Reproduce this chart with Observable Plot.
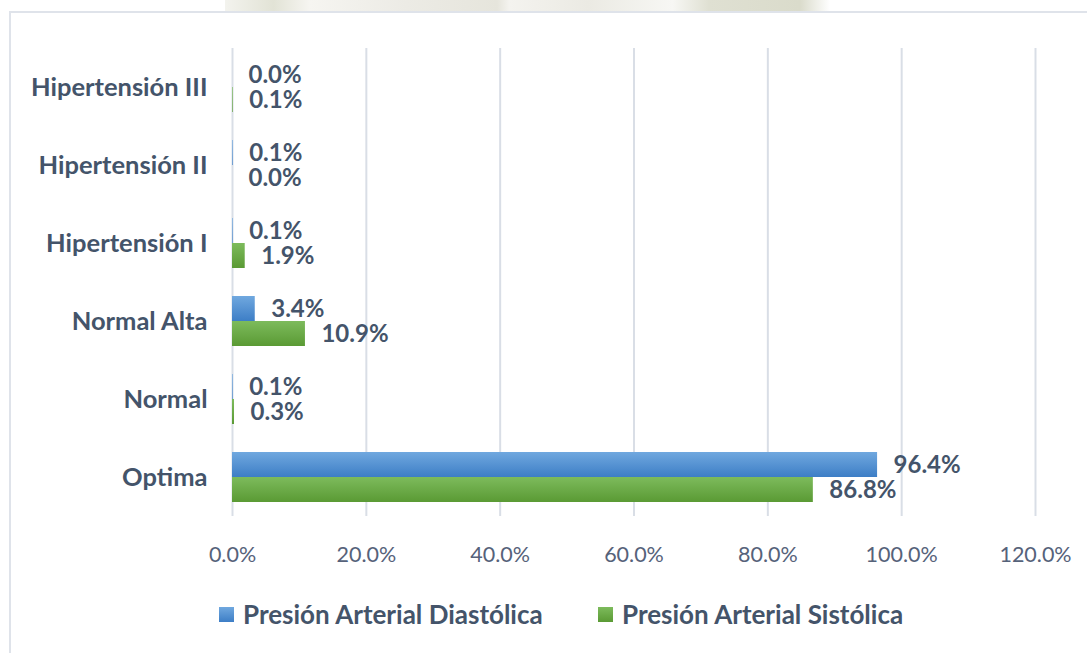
<!DOCTYPE html>
<html>
<head>
<meta charset="utf-8">
<script src="https://cdn.jsdelivr.net/npm/d3@7"></script>
<script src="https://cdn.jsdelivr.net/npm/@observablehq/plot@0.6"></script>
<style>
  html, body { margin: 0; padding: 0; background: #ffffff; }
  body { width: 1087px; height: 653px; position: relative; overflow: hidden; font-family: Lato, "Open Sans", sans-serif; }
  #wm { position: absolute; left: 225px; top: 0; width: 605px; height: 11px;
        background: linear-gradient(90deg, #f3f3ee 0%, #e2e3d6 8%, #f6f5f1 14%, #ecebe5 30%, #e6e5dc 45%, #f4f3ef 47%, #ebeae3 60%, #f7f7f4 74%, #dfe0d2 80%, #dadbcb 95%, #ffffff 100%); }
  #frame { position: absolute; left: 9px; top: 11px; width: 1100px; height: 700px; border-top: 2px solid #dfe3ea; border-left: 2px solid #dfe3ea; }
  #chart { position: absolute; left: 0; top: 0; }
  #legend { position: absolute; left: 0; top: 599px; width: 1087px; height: 30px; }
  .item { position: absolute; top: 0; display: flex; align-items: center; height: 30px; font-weight: bold; font-size: 26px; color: #44546a; }
  .sw { width: 15px; height: 15px; margin-right: 9px; }
</style>
</head>
<body>
<div id="wm"></div>
<div id="frame"></div>
<div id="chart"></div>
<div id="legend"></div>
<script>
const categories = ["Optima", "Normal", "Normal Alta", "Hipertensión I", "Hipertensión II", "Hipertensión III"];
const series = ["Presión Arterial Diastólica", "Presión Arterial Sistólica"];
const diastolica = [96.4, 0.1, 3.4, 0.1, 0.1, 0.0];
const sistolica = [86.8, 0.3, 10.9, 1.9, 0.0, 0.1];
const xTicks = [0, 20, 40, 60, 80, 100, 120];
const seriesFill = ["url(#gBlue)", "url(#gGreen)"];

const data = [];
categories.forEach((c, i) => {
  data.push({cat: c, series: series[0], value: diastolica[i]});
  data.push({cat: c, series: series[1], value: sistolica[i]});
});

const fmt = d => d.toFixed(1) + "%";
const textColor = "#44546a";

const chart = Plot.plot({
  width: 1087,
  height: 575,
  marginLeft: 232,
  marginRight: 52,
  marginTop: 48,
  marginBottom: 59,
  style: {fontFamily: "Lato, 'Open Sans', sans-serif", background: "transparent"},
  x: {domain: [0, 120]},
  fy: {domain: categories.slice().reverse(), padding: 0},
  y: {domain: series, paddingInner: 0, paddingOuter: 0.53, axis: null},
  color: {domain: series, range: seriesFill},
  marks: [
    Plot.gridX(xTicks, {stroke: "#d9dee6", strokeOpacity: 1, strokeWidth: 2}),
    Plot.barX(data, {fy: "cat", y: "series", x: "value", fill: "series"}),
    Plot.text(data, {fy: "cat", y: "series", x: "value", text: d => fmt(d.value), dx: 16, textAnchor: "start",
      fill: textColor, fontSize: 24, fontWeight: "bold"}),
    Plot.axisX({ticks: xTicks, tickSize: 0, tickPadding: 30, tickFormat: fmt, fontSize: 21.5, fill: "#56627a", label: null}),
    Plot.axisFy({anchor: "left", tickSize: 0, tickPadding: 25, fontSize: 25.5, fontWeight: "bold", fill: textColor, label: null})
  ]
});

const svg = d3.select(chart);
const defs = svg.insert("defs", ":first-child");
const gb = defs.append("linearGradient").attr("id", "gBlue").attr("x1", 0).attr("y1", 0).attr("x2", 0).attr("y2", 1);
gb.append("stop").attr("offset", "0%").attr("stop-color", "#70a8df");
gb.append("stop").attr("offset", "100%").attr("stop-color", "#3d7ec6");
const gg = defs.append("linearGradient").attr("id", "gGreen").attr("x1", 0).attr("y1", 0).attr("x2", 0).attr("y2", 1);
gg.append("stop").attr("offset", "0%").attr("stop-color", "#7dbb5c");
gg.append("stop").attr("offset", "100%").attr("stop-color", "#5a9a34");

document.getElementById("chart").appendChild(chart);

const legend = document.getElementById("legend");
const positions = [219, 598];
series.forEach((s, i) => {
  const it = document.createElement("div");
  it.className = "item";
  it.style.left = positions[i] + "px";
  const sw = document.createElement("div");
  sw.className = "sw";
  sw.style.background = `linear-gradient(${i === 0 ? "#70a8df, #3d7ec6" : "#7dbb5c, #5a9a34"})`;
  const t = document.createElement("span");
  t.textContent = s;
  it.appendChild(sw);
  it.appendChild(t);
  legend.appendChild(it);
});
</script>
</body>
</html>
